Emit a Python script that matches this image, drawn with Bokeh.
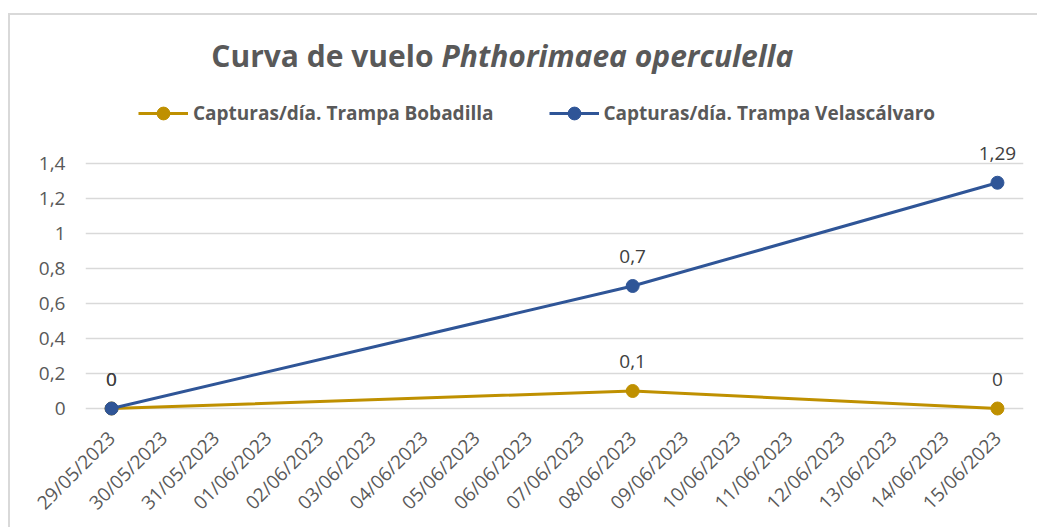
from bokeh.plotting import figure
from bokeh.models import (ColumnDataSource, Range1d, FixedTicker, Legend, LegendItem,
                          Label, LabelSet)
from bokeh.core.properties import value
from bokeh.embed import file_html
from bokeh.resources import INLINE

# ---------------- data ----------------
dates = ["29/05/2023", "30/05/2023", "31/05/2023", "01/06/2023", "02/06/2023",
         "03/06/2023", "04/06/2023", "05/06/2023", "06/06/2023", "07/06/2023",
         "08/06/2023", "09/06/2023", "10/06/2023", "11/06/2023", "12/06/2023",
         "13/06/2023", "14/06/2023", "15/06/2023"]
sample_dates = ["29/05/2023", "08/06/2023", "15/06/2023"]
bobadilla = [0, 0.1, 0]
velascalvaro = [0, 0.7, 1.29]
y_ticks = [0, 0.2, 0.4, 0.6, 0.8, 1.0, 1.2, 1.4]
y_tick_labels = ["0", "0,2", "0,4", "0,6", "0,8", "1", "1,2", "1,4"]
series_names = ["Capturas/día. Trampa Bobadilla", "Capturas/día. Trampa Velascálvaro"]
title_plain = "Curva de vuelo"
title_italic = "Phthorimaea operculella"

# ---------------- styles ----------------
GOLD = "#BF9000"
BLUE = "#2F5597"
TXT = "#595959"
FONT = "Open Sans"

def fmt(v):
    return f"{v:g}".replace(".", ",")

xs = [dates.index(d) for d in sample_dates]
src_b = ColumnDataSource(dict(x=xs, y=bobadilla, lab=[fmt(v) for v in bobadilla]))
src_v = ColumnDataSource(dict(x=xs, y=velascalvaro, lab=[fmt(v) for v in velascalvaro]))

W, H = 1029, 514
p = figure(width=W, height=H, output_backend="svg", toolbar_location=None,
           x_range=Range1d(-0.5, len(dates) - 0.5),
           y_range=Range1d(-0.05714, 2.2457),
           min_border_left=75, min_border_right=16, min_border_top=0,
           min_border_bottom=111)
p.styles = {"margin-top": "13px", "margin-left": "8px",
            "border-top": "2px solid #D9D9D9", "border-left": "2px solid #D9D9D9"}
p.outline_line_color = None
p.background_fill_color = "white"
p.border_fill_color = "white"

# axes
p.xaxis.ticker = FixedTicker(ticks=list(range(len(dates))))
p.xaxis.major_label_overrides = {i: d for i, d in enumerate(dates)}
p.xaxis.major_label_orientation = 0.785398
p.yaxis.ticker = FixedTicker(ticks=y_ticks)
p.yaxis.major_label_overrides = {t: l for t, l in zip(y_ticks, y_tick_labels)}
for ax in (p.xaxis, p.yaxis):
    ax.axis_line_color = None
    ax.major_tick_line_color = None
    ax.minor_tick_line_color = None
    ax.major_tick_in = 0
    ax.major_tick_out = 0
    ax.major_label_text_color = TXT
    ax.major_label_text_font = FONT
    ax.major_label_text_font_size = "19px"
p.yaxis.major_label_standoff = 20
p.xaxis.major_label_standoff = 16

p.xgrid.grid_line_color = None
p.ygrid.grid_line_color = "#D9D9D9"
p.ygrid.grid_line_width = 1.5

# series
lb = p.line("x", "y", source=src_b, line_color=GOLD, line_width=3)
sb = p.scatter("x", "y", source=src_b, size=13, fill_color=GOLD, line_color=GOLD)
lv = p.line("x", "y", source=src_v, line_color=BLUE, line_width=3)
sv = p.scatter("x", "y", source=src_v, size=13, fill_color=BLUE, line_color=BLUE)

for s in (src_b, src_v):
    p.add_layout(LabelSet(x="x", y="y", text="lab", source=s, y_offset=23,
                          text_align="center", text_baseline="alphabetic",
                          text_font=value(FONT), text_font_size="19px",
                          text_color="#404040"))

# legend
legend = Legend(items=[LegendItem(label=series_names[0], renderers=[lb, sb]),
                       LegendItem(label=series_names[1], renderers=[lv, sv])],
                orientation="horizontal", location=(53, 289),
                glyph_width=50, glyph_height=32, label_standoff=5, spacing=55,
                padding=0, margin=0, border_line_color=None,
                background_fill_alpha=0,
                label_text_font=FONT, label_text_font_size="19px",
                label_text_font_style="bold", label_text_color=TXT)
p.add_layout(legend)

# title (two parts: plain + italic)
p.add_layout(Label(x=348, y=363, x_units="screen", y_units="screen", text=title_plain,
                   text_align="right", text_baseline="alphabetic",
                   text_font=FONT, text_font_size="30px", text_font_style="bold",
                   text_color=TXT))
p.add_layout(Label(x=356, y=363, x_units="screen", y_units="screen", text=title_italic,
                   text_align="left", text_baseline="alphabetic",
                   text_font=FONT, text_font_size="30px", text_font_style="bold italic",
                   text_color=TXT))

open("out.html", "w").write(file_html(p, INLINE))
